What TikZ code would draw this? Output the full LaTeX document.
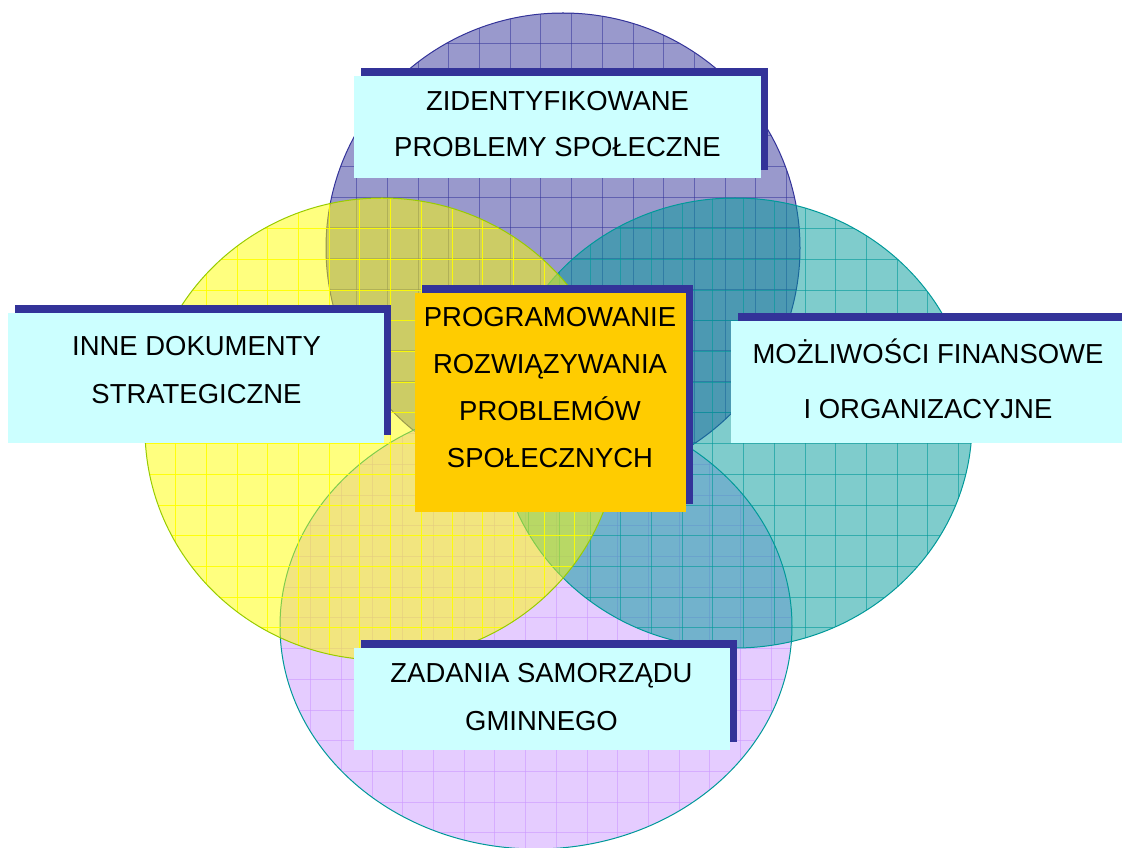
\documentclass[tikz,border=0pt]{standalone}
\usepackage{fontspec}
\setmainfont{Liberation Sans}
\usetikzlibrary{shadows}
\definecolor{topc}{HTML}{333399}
\definecolor{yelc}{HTML}{FFFF00}
\definecolor{yelb}{HTML}{99CC00}
\definecolor{tealc}{HTML}{009999}
\definecolor{lavc}{HTML}{CC99FF}
\definecolor{boxc}{HTML}{CCFFFF}
\definecolor{orac}{HTML}{FFCC00}
\definecolor{shc}{HTML}{333399}
\newcommand\myellipse[7]{%
  \fill[#5, fill opacity=0.5] (#1,#2) ellipse [x radius={#3*0.75pt}, y radius={#4*0.75pt}];
  \begin{scope}
    \clip (#1,#2) ellipse [x radius={#3*0.75pt}, y radius={#4*0.75pt}];
    \foreach \k in {0,...,17} {\draw[#5, opacity=#7, line width=0.7pt] ({#1-#3+\k*30.7},{#2-#4}) -- ({#1-#3+\k*30.7},{#2+#4});}
    \foreach \k in {0,...,16} {\draw[#5, opacity=#7, line width=0.7pt] ({#1-#3},{#2-#4+\k*30.7}) -- ({#1+#3},{#2-#4+\k*30.7});}
  \end{scope}
  \draw[#6, line width=0.75pt] (#1,#2) ellipse [x radius={#3*0.75pt}, y radius={#4*0.75pt}];
}
\begin{document}
\begin{tikzpicture}[x=0.75pt,y=-0.75pt,
  cbox/.style={fill=boxc, draw=none, inner sep=0pt,
    general shadow={shadow xshift=5.6pt, shadow yshift=6pt, fill=shc}},
  obox/.style={cbox, fill=orac},
  txt/.style={font=\fontsize{20.6}{#1}\selectfont, align=center, anchor=base, inner sep=0pt, text=black}]
\useasboundingbox (0,0) rectangle (1122,848);
\clip (0,0) rectangle (1122,848);
\myellipse{563}{248}{237}{235}{topc}{topc}{0.55}
\myellipse{536}{626}{256}{223}{lavc}{tealc}{0.6}
\myellipse{735}{423}{237}{225}{tealc}{tealc}{0.6}
\myellipse{382}{429}{237}{231}{yelc}{yelb}{0.9}
% boxes
\node[cbox, minimum width=305.25pt, minimum height=76.5pt] (topbox) at (557.5,127) {};
\node[cbox, minimum width=282pt, minimum height=97.5pt] (leftbox) at (196,378) {};
\node[cbox, minimum width=299.25pt, minimum height=92pt] (rightbox) at (930.5,382) {};
\node[cbox, minimum width=282pt, minimum height=76.5pt] (botbox) at (542,699) {};
\node[obox, minimum width=203.25pt, minimum height=164.25pt] (centbox) at (550.5,402.2) {};
% texts (anchor = baseline of last line)
\node[txt=34.3pt] (toptext) at (557.5,156.7) {ZIDENTYFIKOWANE\\PROBLEMY SPOŁECZNE};
\node[txt=36pt] (lefttext) at (196.5,403.3) {INNE DOKUMENTY\\STRATEGICZNE};
\node[txt=41.25pt] (righttext) at (928,419) {MOŻLIWOŚCI FINANSOWE\\I ORGANIZACYJNE};
\node[txt=35.5pt] (bottext) at (541.5,730) {ZADANIA SAMORZĄDU\\GMINNEGO};
\node[txt=35.25pt] (centtext) at (550,467.7) {PROGRAMOWANIE\\ROZWIĄZYWANIA\\PROBLEMÓW\\SPOŁECZNYCH};
\end{tikzpicture}
\end{document}
